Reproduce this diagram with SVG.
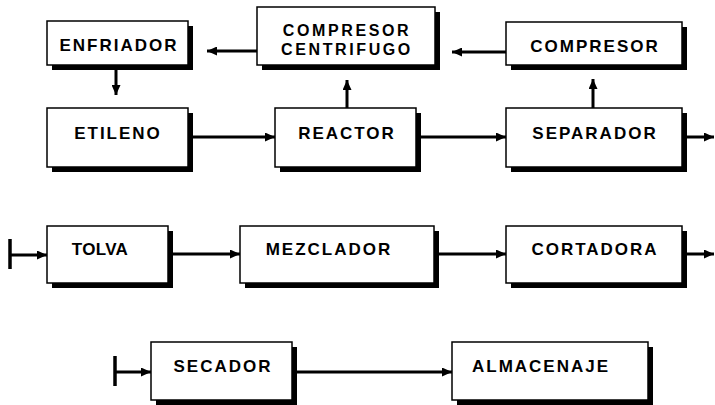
<svg xmlns="http://www.w3.org/2000/svg" width="715" height="405" viewBox="0 0 715 405">
<style>
.sh{fill:#000}
.bx{fill:#fff;stroke:#000;stroke-width:1.5}
.t{font-family:"Liberation Sans",Arial,sans-serif;font-weight:bold;font-size:17px;letter-spacing:2px;text-anchor:middle;fill:#000}
.t2{font-size:16px;letter-spacing:2.6px}
.ln{stroke:#000;stroke-width:3;fill:none}
.bar{stroke:#000;stroke-width:3.5;fill:none}
</style>
<defs>
<marker id="ah" markerUnits="userSpaceOnUse" markerWidth="10" markerHeight="9" refX="10" refY="4.5" orient="auto">
<path d="M0,0 L10,4.5 L0,9 z" fill="#000"/>
</marker>
</defs>
<rect width="715" height="405" fill="#fff"/>
<g id="enfriador"><rect class="sh" x="52" y="26" width="141" height="44"/><rect class="bx" x="47" y="21" width="141" height="44"/><text class="t" x="119" y="51">ENFRIADOR</text></g>
<g id="compresor-centrifugo"><rect class="sh" x="262" y="12" width="178" height="58"/><rect class="bx" x="257" y="7" width="178" height="58"/><text class="t t2" x="347" y="35.5">COMPRESOR</text><text class="t t2" x="347" y="54.5">CENTRIFUGO</text></g>
<g id="compresor"><rect class="sh" x="511" y="27" width="176" height="43"/><rect class="bx" x="506" y="22" width="176" height="43"/><text class="t" x="595" y="52">COMPRESOR</text></g>
<g id="etileno"><rect class="sh" x="52" y="113" width="141" height="59"/><rect class="bx" x="47" y="108" width="141" height="59"/><text class="t" x="118" y="139">ETILENO</text></g>
<g id="reactor"><rect class="sh" x="280" y="113" width="141" height="59"/><rect class="bx" x="275" y="108" width="141" height="59"/><text class="t" x="347" y="139">REACTOR</text></g>
<g id="separador"><rect class="sh" x="511" y="113" width="176" height="59"/><rect class="bx" x="506" y="108" width="176" height="59"/><text class="t" x="595" y="139">SEPARADOR</text></g>
<g id="tolva"><rect class="sh" x="52" y="231" width="121" height="57"/><rect class="bx" x="47" y="226" width="121" height="57"/><text class="t" x="100" y="255" style="letter-spacing:0.3px">TOLVA</text></g>
<g id="mezclador"><rect class="sh" x="245" y="231" width="194" height="57"/><rect class="bx" x="240" y="226" width="194" height="57"/><text class="t" x="329" y="255">MEZCLADOR</text></g>
<g id="cortadora"><rect class="sh" x="511" y="231" width="176" height="57"/><rect class="bx" x="506" y="226" width="176" height="57"/><text class="t" x="595" y="255">CORTADORA</text></g>
<g id="secador"><rect class="sh" x="156" y="347" width="141" height="58"/><rect class="bx" x="151" y="342" width="141" height="58"/><text class="t" x="223" y="372">SECADOR</text></g>
<g id="almacenaje"><rect class="sh" x="457" y="347" width="196" height="58"/><rect class="bx" x="452" y="342" width="196" height="58"/><text class="t" x="541" y="372">ALMACENAJE</text></g>
<g id="connectors">
<line class="ln" x1="257" y1="51" x2="207" y2="51" marker-end="url(#ah)"/>
<line class="ln" x1="506" y1="52" x2="452" y2="52" marker-end="url(#ah)"/>
<line class="ln" x1="116" y1="70" x2="116" y2="95" marker-end="url(#ah)"/>
<line class="ln" x1="347" y1="108" x2="347" y2="80" marker-end="url(#ah)"/>
<line class="ln" x1="593" y1="108" x2="593" y2="79" marker-end="url(#ah)"/>
<line class="ln" x1="193" y1="137" x2="275" y2="137" marker-end="url(#ah)"/>
<line class="ln" x1="421" y1="137" x2="506" y2="137" marker-end="url(#ah)"/>
<line class="ln" x1="687" y1="137" x2="714" y2="137" marker-end="url(#ah)"/>
<line class="bar" x1="10" y1="239" x2="10" y2="269"/>
<line class="ln" x1="10" y1="255" x2="47" y2="255" marker-end="url(#ah)"/>
<line class="ln" x1="173" y1="254" x2="240" y2="254" marker-end="url(#ah)"/>
<line class="ln" x1="439" y1="254" x2="506" y2="254" marker-end="url(#ah)"/>
<line class="ln" x1="687" y1="254" x2="714" y2="254" marker-end="url(#ah)"/>
<line class="bar" x1="115" y1="356" x2="115" y2="386"/>
<line class="ln" x1="115" y1="372" x2="151" y2="372" marker-end="url(#ah)"/>
<line class="ln" x1="297" y1="372" x2="452" y2="372" marker-end="url(#ah)"/>
</g>
</svg>
